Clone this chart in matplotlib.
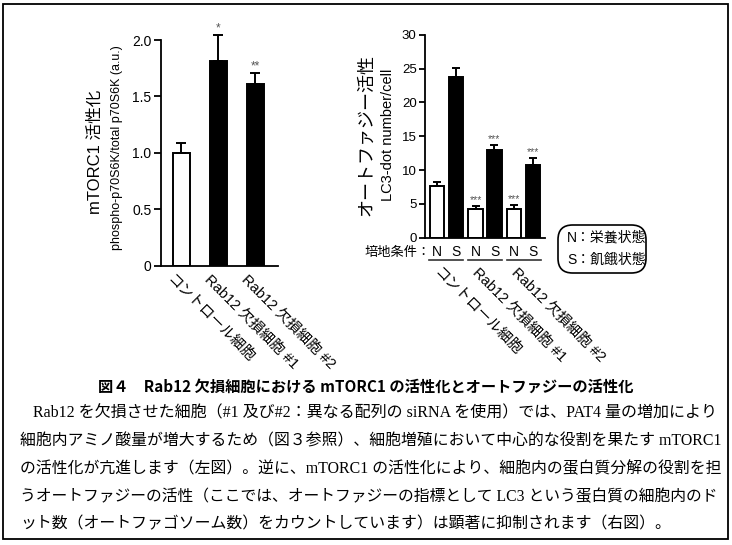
import matplotlib
matplotlib.use("Agg")
import matplotlib.pyplot as plt
from matplotlib.patches import Rectangle, FancyBboxPatch
from matplotlib.lines import Line2D
import matplotlib.transforms as mtransforms

plt.rcParams['font.family'] = ['Liberation Sans', 'Noto Sans CJK JP']
plt.rcParams['axes.linewidth'] = 1.3

# ---------------- data ----------------
left_categories = ["コントロール細胞", "Rab12 欠損細胞 #1", "Rab12 欠損細胞 #2"]
left_values = [1.00, 1.81, 1.61]
left_err = [0.09, 0.23, 0.10]
left_stars = ["", "*", "**"]
left_yticks = [0, 0.5, 1.0, 1.5, 2.0]
left_yticklabels = ["0", "0.5", "1.0", "1.5", "2.0"]

right_groups = ["コントロール細胞", "Rab12 欠損細胞 #1", "Rab12 欠損細胞 #2"]
right_conditions = ["N", "S"]
right_N = [7.6, 4.3, 4.2]
right_N_err = [0.6, 0.4, 0.7]
right_S = [23.7, 13.0, 10.8]
right_S_err = [1.4, 0.7, 1.0]
right_N_stars = ["", "***", "***"]
right_S_stars = ["", "***", "***"]
right_yticks = [0, 5, 10, 15, 20, 25, 30]

caption_title = "図４　Rab12 欠損細胞における mTORC1 の活性化とオートファジーの活性化"
caption_lines = [
    "Rab12 を欠損させた細胞（#1 及び#2：異なる配列の siRNA を使用）では、PAT4 量の増加により",
    "細胞内アミノ酸量が増大するため（図３参照）、細胞増殖において中心的な役割を果たす mTORC1",
    "の活性化が亢進します（左図）。逆に、mTORC1 の活性化により、細胞内の蛋白質分解の役割を担",
    "うオートファジーの活性（ここでは、オートファジーの指標として LC3 という蛋白質の細胞内のド",
    "ット数（オートファゴソーム数）をカウントしています）は顕著に抑制されます（右図）。",
]

W, H = 732, 545
fig = plt.figure(figsize=(W / 100, H / 100), dpi=100)

def fx(px):
    return px / W

def fy(py):
    return 1 - py / H

# outer frame
fig.patches.append(Rectangle((fx(3), fy(539)), fx(725), 535 / H, transform=fig.transFigure,
                             fill=False, edgecolor='black', linewidth=1.3))

star_color = '#555555'

# ---------------- left chart ----------------
axL = fig.add_axes([fx(161), fy(265.7), fx(117), (265.7 - 40) / H])
xL = list(range(len(left_values)))
colorsL = ['white', 'black', 'black']
axL.bar(xL, left_values, width=0.46, color=colorsL, edgecolor='black', linewidth=1.4,
        yerr=[[0] * 3, left_err], error_kw=dict(ecolor='black', elinewidth=1.4, capsize=3.6, capthick=1.4,
                                                 clip_on=False),
        zorder=2)
axL.set_ylim(0, 2.0)
axL.set_xlim(-0.54, 2.61)
axL.set_yticks(left_yticks)
axL.set_yticklabels(left_yticklabels, fontsize=10)
axL.set_xticks([])
for s in ['top', 'right']:
    axL.spines[s].set_visible(False)
axL.tick_params(axis='y', length=5, width=1.3, pad=2)
for i, st in enumerate(left_stars):
    if st:
        axL.annotate(st, (xL[i], left_values[i] + left_err[i]), xytext=(0, 0.5),
                     textcoords='offset points', ha='center', va='bottom', fontsize=8.5,
                     color=star_color, annotation_clip=False)
for i, lab in enumerate(left_categories):
    tr = axL.get_xaxis_transform() + mtransforms.ScaledTranslation(-7 / 100, -7 / 100, fig.dpi_scale_trans)
    axL.text(xL[i], 0, lab, transform=tr, rotation=-45, rotation_mode='anchor',
             ha='left', va='top', fontsize=10.5)

fig.text(fx(95), fy(152), "mTORC1 活性化", rotation=90, ha='center', va='center', fontsize=12)
fig.text(fx(117), fy(148), "phospho-p70S6K/total p70S6K (a.u.)", rotation=90, ha='center', va='center', fontsize=9)

# ---------------- right chart ----------------
axR = fig.add_axes([fx(425), fy(237.7), fx(120), 203 / H])
gap = 2.05
xN = [g * gap for g in range(3)]
xS = [g * gap + 1 for g in range(3)]
bw = 0.75
axR.bar(xN, right_N, width=bw, color='white', edgecolor='black', linewidth=1.4,
        yerr=[[0] * 3, right_N_err], error_kw=dict(ecolor='black', elinewidth=1.4, capsize=3.0, capthick=1.4),
        zorder=2)
axR.bar(xS, right_S, width=bw, color='black', edgecolor='black', linewidth=1.4,
        yerr=[[0] * 3, right_S_err], error_kw=dict(ecolor='black', elinewidth=1.4, capsize=3.0, capthick=1.4),
        zorder=2)
axR.set_ylim(0, 30)
axR.set_xlim(-0.62, 2 * gap + 1 + 0.62)
axR.set_yticks(right_yticks)
axR.set_yticklabels([str(v) for v in right_yticks], fontsize=9.5)
axR.set_xticks([])
for s in ['top', 'right']:
    axR.spines[s].set_visible(False)
axR.tick_params(axis='y', length=4.5, width=1.3, pad=1.5)
for i in range(3):
    if right_N_stars[i]:
        axR.annotate(right_N_stars[i], (xN[i], right_N[i] + right_N_err[i]), xytext=(0, 0.5),
                     textcoords='offset points', ha='center', va='bottom', fontsize=7.5,
                     color=star_color, annotation_clip=False)
    if right_S_stars[i]:
        axR.annotate(right_S_stars[i], (xS[i], right_S[i] + right_S_err[i]), xytext=(0, 0.5),
                     textcoords='offset points', ha='center', va='bottom', fontsize=7.5,
                     color=star_color, annotation_clip=False)

trX = axR.get_xaxis_transform()
def off(dx_px, dy_px):
    return trX + mtransforms.ScaledTranslation(dx_px / 100, -dy_px / 100, fig.dpi_scale_trans)

for i in range(3):
    axR.text(xN[i], 0, right_conditions[0], transform=off(0, 14.5), ha='center', va='center', fontsize=10)
    axR.text(xS[i], 0, right_conditions[1], transform=off(0, 14.5), ha='center', va='center', fontsize=10)
    ln = Line2D([xN[i] - 0.4, xS[i] + 0.4], [0, 0], transform=off(0, 22.5), color='#333333',
                linewidth=1.2, clip_on=False)
    axR.add_line(ln)
    axR.text((xN[i] + xS[i]) / 2, 0, right_groups[i], transform=off(-5, 28), rotation=-45,
             rotation_mode='anchor', ha='left', va='top', fontsize=10.5)
axR.text(xN[0], 0, "培地条件：", transform=off(-6, 15), ha='right', va='center', fontsize=9.5)

fig.text(fx(367), fy(135), "オートファジー活性", rotation=90, ha='center', va='center', fontsize=13)
fig.text(fx(388), fy(135), "LC3-dot number/cell", rotation=90, ha='center', va='center', fontsize=10.5)

# legend box
fig.patches.append(FancyBboxPatch((fx(558), fy(273)), fx(88), 48 / H,
                                  boxstyle="round,pad=0,rounding_size=0.02",
                                  transform=fig.transFigure, fill=False, edgecolor='black', linewidth=1.2,
                                  mutation_aspect=W / H))
fig.text(fx(567), fy(238), "N：栄養状態", ha='left', va='center', fontsize=10)
fig.text(fx(567), fy(260), "S：飢餓状態", ha='left', va='center', fontsize=10)

# ---------------- caption ----------------
fig.text(0.5, fy(387), caption_title, ha='center', va='center', fontsize=11,
         fontweight='bold', family=['Noto Sans CJK JP'])

cap_family = ['Liberation Serif', 'Noto Sans CJK JP']
ys = [413, 441, 469, 497, 524]
starts = [33, 20, 20, 20, 20]
renderer = fig.canvas.get_renderer()
base = 11
texts = []
sizes = []
for i, line in enumerate(caption_lines):
    t = fig.text(fx(starts[i]), fy(ys[i]), line, ha='left', va='center', fontsize=base, family=cap_family)
    texts.append(t)
    if i < 4:
        w = t.get_window_extent(renderer).width
        sizes.append(base * (718 - starts[i]) / w)
avg = sum(sizes) / len(sizes)
for i, t in enumerate(texts):
    t.set_fontsize(sizes[i] if i < 4 else avg)

fig.savefig("out.png", dpi=100)
